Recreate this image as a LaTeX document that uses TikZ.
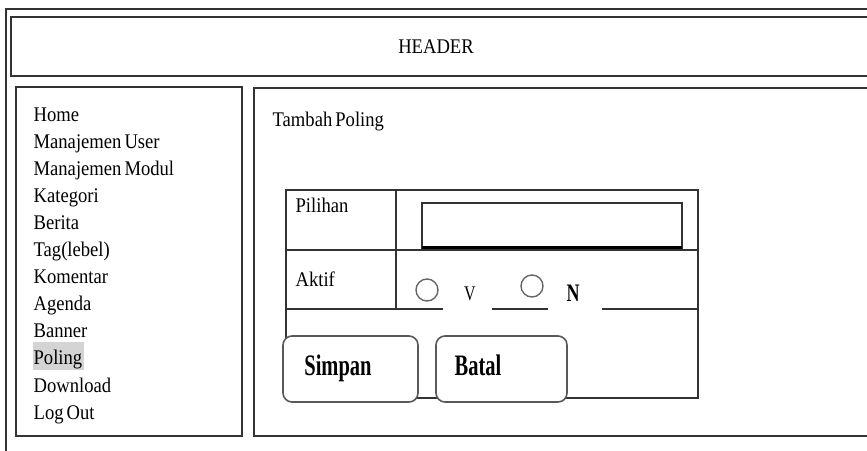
\documentclass[tikz,border=0pt]{standalone}
\usepackage{fontspec}
\setmainfont{Liberation Serif}
\usepackage{graphicx}
\newcommand{\tallx}[2][1.12]{\scalebox{1}[#1]{#2}}

\begin{document}
\begin{tikzpicture}
  [x=1pt,y=-1pt,line width=1.3pt,
   frame/.style={draw=black!80},
   menuitem/.style={anchor=base west,inner sep=0pt,font=\fontsize{18.6}{18.6}\selectfont},
   label/.style={anchor=base west,inner sep=0pt,font=\fontsize{18.6}{18.6}\selectfont},
   btn/.style={draw=black!65,line width=1.6pt,fill=white,rounded corners=9pt},
   btntext/.style={anchor=base,inner sep=0pt,font=\fontsize{20.5}{20.5}\bfseries\selectfont},
   radio/.style={draw=black!60,line width=1.4pt,fill=white}]
  \useasboundingbox (0,0) rectangle (867,450);

  % page frame, header, panels
  \draw[frame] (6,9) rectangle (890,470);
  \draw[frame] (11,17) rectangle (890,76);
  \node[inner sep=0pt,font=\fontsize{18.6}{18.6}\selectfont] (header) at (436,47) {\tallx{HEADER}};
  \draw[frame] (16,87) rectangle (242,436);
  \draw[frame] (254,88) rectangle (890,436);

  % menu
  \fill[black!17] (33,342) rectangle (84,370);
  \foreach \name [count=\i from 0] in {Home,Manajemen\,User,Manajemen\,Modul,Kategori,Berita,Tag(lebel),Komentar,Agenda,Banner,Poling,Download,Log\,Out}
    \node[menuitem] (menu\i) at (33,121+27.1*\i) {\tallx{\name}};

  % form
  \node[label] (judul) at (272,126) {\tallx{Tambah\,Poling}};
  \draw[frame] (286,309) -- (286,190) -- (698,190) -- (698,309);
  \draw[frame] (286,309) -- (286,398) -- (698,398) -- (698,309);
  \draw[frame] (286,250) -- (698,250);
  \draw[frame] (396,190) -- (396,309);
  \draw[frame] (286,309) -- (443,309);
  \draw[frame] (492,309) -- (548,309);
  \draw[frame] (602,309) -- (698,309);
  \node[label] (pilihan) at (295,212) {\tallx{Pilihan}};
  \node[label] (aktif) at (295,286) {\tallx{Aktif}};
  \draw[frame] (422,203) rectangle (682,248);
  \draw[black,line width=2.2pt] (422,247.5) -- (682,247.5);

  \draw[radio] (427,290) circle (11);
  \node[anchor=base,inner sep=0pt,font=\fontsize{16}{16}\selectfont] (ya) at (470,300) {\tallx[1.3]{V}};
  \draw[radio] (532,286) circle (11);
  \node[anchor=base,inner sep=0pt,font=\fontsize{18}{18}\bfseries\selectfont] (tidak) at (573,301) {\tallx[1.4]{N}};

  % buttons
  \draw[btn] (283,336) rectangle (418,402);
  \node[btntext] (simpan) at (338,375) {\tallx[1.45]{Simpan}};
  \draw[btn] (436,336) rectangle (567,402);
  \node[btntext] (batal) at (478,375) {\tallx[1.45]{Batal}};

\end{tikzpicture}
\end{document}
